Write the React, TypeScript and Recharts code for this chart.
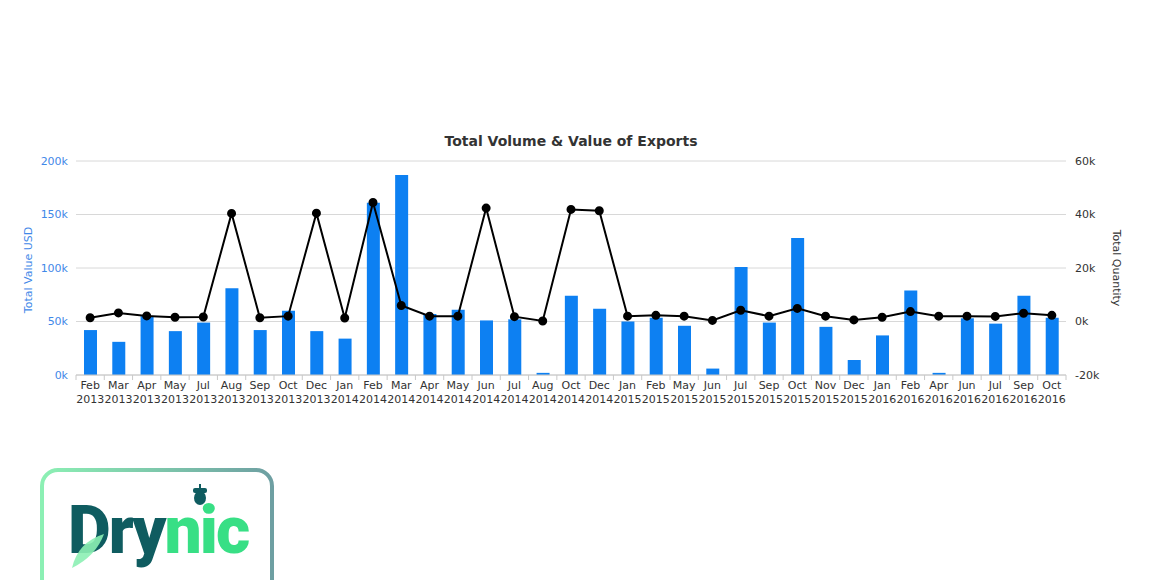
import { ComposedChart, Bar, Line, XAxis, YAxis, CartesianGrid } from 'recharts';

const months = [
  'Feb 2013', 'Mar 2013', 'Apr 2013', 'May 2013', 'Jul 2013', 'Aug 2013', 'Sep 2013',
  'Oct 2013', 'Dec 2013', 'Jan 2014', 'Feb 2014', 'Mar 2014', 'Apr 2014', 'May 2014',
  'Jun 2014', 'Jul 2014', 'Aug 2014', 'Oct 2014', 'Dec 2014', 'Jan 2015', 'Feb 2015',
  'May 2015', 'Jun 2015', 'Jul 2015', 'Sep 2015', 'Oct 2015', 'Nov 2015', 'Dec 2015',
  'Jan 2016', 'Feb 2016', 'Apr 2016', 'Jun 2016', 'Jul 2016', 'Sep 2016', 'Oct 2016',
];

// Total Value USD (bars, left axis)
const totalValue = [
  42000, 31000, 55000, 41000, 49000, 81000, 42000,
  60000, 41000, 34000, 161000, 187000, 57000, 61000,
  51000, 52000, 2000, 74000, 62000, 50000, 53500,
  46000, 6000, 101000, 49000, 128000, 45000, 14000,
  37000, 79000, 2000, 53000, 48000, 74000, 53500,
];

// Total Quantity (line, right axis)
const totalQuantity = [
  1400, 3200, 2100, 1600, 1700, 40400, 1400,
  2000, 40500, 1300, 44500, 6000, 2000, 2000,
  42400, 1800, 200, 41900, 41400, 2000, 2300,
  2000, 400, 4200, 2000, 4900, 2000, 600,
  1600, 3700, 2000, 2000, 1900, 3100, 2300,
];

const valueTicks = [0, 50000, 100000, 150000, 200000];
const quantityTicks = [-20000, 0, 20000, 40000, 60000];

const data = months.map((m, i) => ({ month: m, value: totalValue[i], quantity: totalQuantity[i] }));

const FONT = '"DejaVu Sans", Verdana, sans-serif';
const PLOT_LEFT = 76;
const PLOT_RIGHT = 1066;
const BAND = (PLOT_RIGHT - PLOT_LEFT) / months.length;

const fmtK = (v: number) => `${v / 1000}k`;

function MonthTick(props: any) {
  const { x, y, payload } = props;
  const [m, yr] = String(payload.value).split(' ');
  const isLast = payload.value === months[months.length - 1];
  return (
    <g>
      <line x1={x - BAND / 2} x2={x - BAND / 2} y1={y} y2={y + 5} stroke="#c8c8c8" />
      {isLast && <line x1={x + BAND / 2} x2={x + BAND / 2} y1={y} y2={y + 5} stroke="#c8c8c8" />}
      <text x={x} y={y} textAnchor="middle" fill="#333" fontSize={11} fontFamily={FONT}>
        <tspan x={x} dy={14}>{m}</tspan>
        <tspan x={x} dy={14}>{yr}</tspan>
      </text>
    </g>
  );
}

function Logo() {
  return (
    <svg width={240} height={116} style={{ position: 'absolute', left: 38, top: 466 }}>
      <defs>
        <linearGradient id="logoBorder" x1="0" y1="0" x2="1" y2="0">
          <stop offset="0%" stopColor="#8cf0b4" />
          <stop offset="100%" stopColor="#6e9fa2" />
        </linearGradient>
      </defs>
      <rect x={4} y={4} width={230} height={140} rx={16} fill="#fff" stroke="url(#logoBorder)" strokeWidth={4} />
      <rect x={155} y={22} width={14} height={5} rx={2} fill="#0f5c60" />
      <rect x={161} y={18} width={2} height={5} fill="#0f5c60" />
      <ellipse cx={162} cy={32} rx={6} ry={7} fill="#0f5c60" />
      <text x={30} y={87} fontFamily="Roboto, sans-serif" fontWeight={900} fontSize={66} letterSpacing={-2}>
        <tspan fill="#0f5c60">Dry</tspan>
        <tspan fill="#38df85">nic</tspan>
      </text>
      <path d="M34 102 Q40 76 66 68 Q58 90 34 102 Z" fill="#8cf0b4" opacity={0.9} />
    </svg>
  );
}

export default function App() {
  return (
    <div style={{ position: 'absolute', left: 0, top: 0, width: 1160, height: 580, background: '#fff' }}>
      <div
        style={{
          position: 'absolute', left: PLOT_LEFT, width: PLOT_RIGHT - PLOT_LEFT, top: 133,
          textAlign: 'center', fontFamily: FONT, fontSize: 14, fontWeight: 'bold', color: '#333',
        }}
      >
        Total Volume &amp; Value of Exports
      </div>
      <div
        style={{
          position: 'absolute', left: 28, top: 270, transform: 'translate(-50%, -50%) rotate(-90deg)',
          fontFamily: FONT, fontSize: 11, color: '#3f88e8', whiteSpace: 'nowrap',
        }}
      >
        Total Value USD
      </div>
      <div
        style={{
          position: 'absolute', left: 1116, top: 268, transform: 'translate(-50%, -50%) rotate(90deg)',
          fontFamily: FONT, fontSize: 11, color: '#333', whiteSpace: 'nowrap',
        }}
      >
        Total Quantity
      </div>
      <ComposedChart
        width={1160}
        height={580}
        data={data}
        margin={{ top: 161, right: 0, left: 0, bottom: 165 }}
        style={{ position: 'absolute', left: 0, top: 0 }}
      >
        <CartesianGrid vertical={false} stroke="#d8d8d8" yAxisId="value" />
        <XAxis
          dataKey="month"
          interval={0}
          height={40}
          tickLine={false}
          tickSize={0}
          tickMargin={0}
          stroke="#c8c8c8"
          tick={<MonthTick />}
        />
        <YAxis
          yAxisId="value"
          orientation="left"
          width={PLOT_LEFT}
          domain={[0, 200000]}
          ticks={valueTicks}
          tickFormatter={fmtK}
          axisLine={false}
          tickLine={false}
          tickSize={0}
          tickMargin={8}
          tick={{ fill: '#3f88e8', fontSize: 11, fontFamily: FONT }}
        />
        <YAxis
          yAxisId="qty"
          orientation="right"
          width={1160 - PLOT_RIGHT}
          domain={[-20000, 60000]}
          ticks={quantityTicks}
          tickFormatter={fmtK}
          axisLine={false}
          tickLine={false}
          tickSize={0}
          tickMargin={9}
          tick={{ fill: '#333', fontSize: 11, fontFamily: FONT }}
        />
        <Bar yAxisId="value" dataKey="value" fill="#0d80f2" barSize={13} isAnimationActive={false} />
        <Line
          yAxisId="qty"
          dataKey="quantity"
          stroke="#000"
          strokeWidth={2}
          dot={{ r: 3.5, fill: '#000', stroke: '#000' }}
          isAnimationActive={false}
        />
      </ComposedChart>
      <Logo />
    </div>
  );
}
